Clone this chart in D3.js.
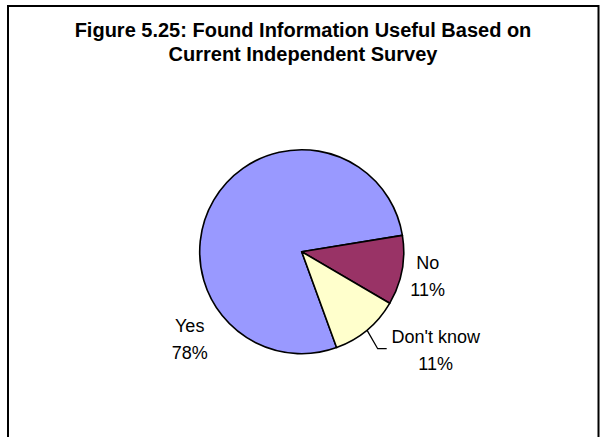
<!DOCTYPE html>
<html>
<head>
<meta charset="utf-8">
<script src="https://cdn.jsdelivr.net/npm/d3@7"></script>
<style>
  html, body { margin: 0; padding: 0; background: #fff; }
  svg { display: block; }
</style>
</head>
<body>
<svg id="chart" width="601" height="437"></svg>
<script>
// Survey response shares (percent)
const categories = ["Yes", "No", "Don't know"];
const values = [78, 11, 11];
const valueLabels = ["78%", "11%", "11%"];
const colors = ["#9999FF", "#993366", "#FFFFCC"];
const titleLines = [
  "Figure 5.25: Found Information Useful Based on",
  "Current Independent Survey"
];

const width = 601, height = 437;
const svg = d3.select("#chart");

// Outer frame (runs off the bottom edge)
svg.append("rect")
  .attr("x", 8).attr("y", 6)
  .attr("width", 590.5).attr("height", 450)
  .attr("fill", "#fff")
  .attr("stroke", "#000")
  .attr("stroke-width", 2);

// Title
const title = svg.append("text")
  .attr("text-anchor", "middle")
  .attr("font-family", "Liberation Sans, Arial, sans-serif")
  .attr("font-weight", "bold")
  .attr("font-size", 20)
  .attr("fill", "#000");
titleLines.forEach((line, i) => {
  title.append("tspan")
    .attr("x", 303)
    .attr("y", 37 + i * 24)
    .text(line);
});

// Pie
const cx = 301.7, cy = 251.7, radius = 102;
const deg = Math.PI / 180;
const pie = d3.pie()
  .sort(null)
  .value(d => d)
  .startAngle(160 * deg)
  .endAngle(520 * deg);
const arcs = pie(values);
const arc = d3.arc().innerRadius(0).outerRadius(radius);

const g = svg.append("g").attr("transform", `translate(${cx},${cy})`);
g.selectAll("path.slice")
  .data(arcs)
  .join("path")
  .attr("class", "slice")
  .attr("d", arc)
  .attr("fill", (d, i) => colors[i])
  .attr("stroke", "#000")
  .attr("stroke-width", 1.6)
  .attr("stroke-linejoin", "round");

// Label placement relative to pie centre (block centre)
const labelPos = {
  "Yes": [-112, 88],
  "No": [126, 25],
  "Don't know": [134, 99]
};
const lineGap = 27;

const labels = g.selectAll("text.label")
  .data(arcs)
  .join("text")
  .attr("class", "label")
  .attr("text-anchor", "middle")
  .attr("font-family", "Liberation Sans, Arial, sans-serif")
  .attr("font-size", 18)
  .attr("fill", "#000");
labels.each(function (d, i) {
  const [lx, ly] = labelPos[categories[i]];
  const t = d3.select(this);
  t.append("tspan").attr("x", lx).attr("y", ly - lineGap / 2 + 6).text(categories[i]);
  t.append("tspan").attr("x", lx).attr("y", ly + lineGap / 2 + 6).text(valueLabels[i]);
});

// Leader line for the small "Don't know" slice
const dk = arcs[2];
const mid = (dk.startAngle + dk.endAngle) / 2;
const p0 = [radius * Math.sin(mid), -radius * Math.cos(mid)];
const [dkx, dky] = labelPos["Don't know"];
const p1 = [dkx - 58, dky - 2];
const p2 = [dkx - 49, dky - 2];
g.append("polyline")
  .attr("points", [p0, p1, p2].map(p => p.join(",")).join(" "))
  .attr("fill", "none")
  .attr("stroke", "#000")
  .attr("stroke-width", 1.3);
</script>
</body>
</html>
